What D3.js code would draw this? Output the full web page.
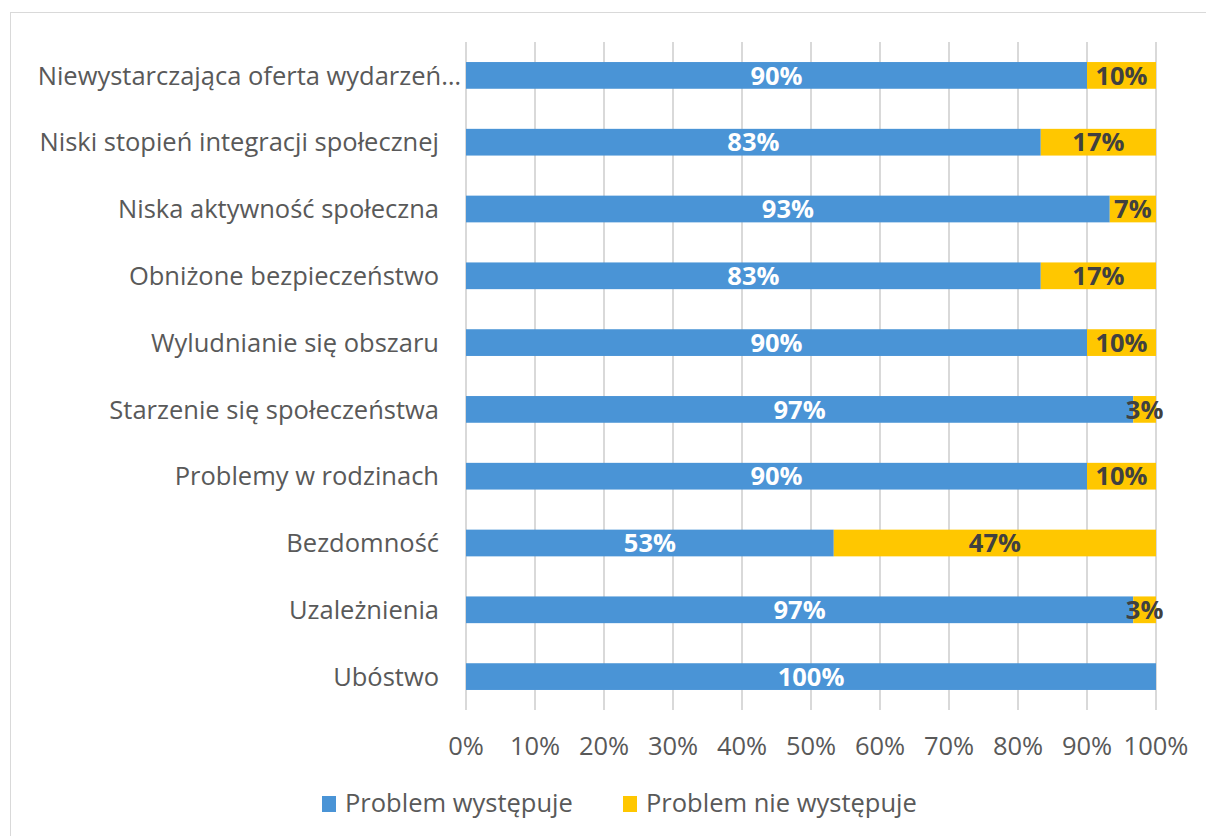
<!DOCTYPE html>
<html><head><meta charset="utf-8">
<script src="https://cdn.jsdelivr.net/npm/d3@7"></script>
<style>body{margin:0;background:#fff}svg{display:block}</style>
</head><body>
<script>
const categories = ["Niewystarczająca oferta wydarzeń…","Niski stopień integracji społecznej","Niska aktywność społeczna","Obniżone bezpieczeństwo","Wyludnianie się obszaru","Starzenie się społeczeństwa","Problemy w rodzinach","Bezdomność","Uzależnienia","Ubóstwo"];
const occurs = [90,83.3,93.3,83.3,90,96.7,90,53.3,96.7,100];
const notOccurs = [10,16.7,6.7,16.7,10,3.3,10,46.7,3.3,0];
const seriesNames = ["Problem występuje","Problem nie występuje"];
const ticks = [0,10,20,30,40,50,60,70,80,90,100];
const colors = ["#4A94D6","#FFC700"];

const W=1206,H=836;
const svg=d3.select("body").append("svg").attr("width",W).attr("height",H);
svg.append("rect").attr("x",10.5).attr("y",12.5).attr("width",1200).attr("height",840).attr("fill","#fff").attr("stroke","#d9d9d9");
const font="'Open Sans', sans-serif";
const fs=25.5;
const x=d3.scaleLinear().domain([0,100]).range([466,1156]);
const y=d3.scaleBand().domain(categories).range([42,710]).paddingInner(0.6).paddingOuter(0.3);

svg.append("g").selectAll("line").data(ticks).join("line")
 .attr("x1",d=>x(d)).attr("x2",d=>x(d)).attr("y1",42).attr("y2",710)
 .attr("stroke","#d9d9d9").attr("stroke-width",2);

const rows=categories.map((c,i)=>({c,a:occurs[i],b:notOccurs[i]}));
const g=svg.append("g");
g.selectAll("rect.a").data(rows).join("rect").attr("x",x(0)).attr("y",d=>y(d.c)).attr("width",d=>x(d.a)-x(0)).attr("height",y.bandwidth()).attr("fill",colors[0]);
g.selectAll("rect.b").data(rows).join("rect").attr("x",d=>x(d.a)).attr("y",d=>y(d.c)).attr("width",d=>x(d.a+d.b)-x(d.a)).attr("height",y.bandwidth()).attr("fill",colors[1]);
g.selectAll("text.a").data(rows).join("text").attr("x",d=>x(d.a/2)).attr("y",d=>y(d.c)+y.bandwidth()/2).attr("dy","0.36em")
 .attr("text-anchor","middle").attr("font-family",font).attr("font-weight","bold").attr("font-size",fs).attr("fill","#fff").text(d=>Math.round(d.a)+"%");
g.selectAll("text.b").data(rows.filter(d=>d.b>0)).join("text").attr("x",d=>x(d.a+d.b/2)).attr("y",d=>y(d.c)+y.bandwidth()/2).attr("dy","0.36em")
 .attr("text-anchor","middle").attr("font-family",font).attr("font-weight","bold").attr("font-size",fs).attr("fill","#404040").text(d=>Math.round(d.b)+"%");

svg.append("g").selectAll("text").data(categories).join("text")
 .attr("x",d=>d.endsWith("…")?461:439).attr("y",d=>y(d)+y.bandwidth()/2).attr("dy","0.36em")
 .attr("text-anchor","end").attr("font-family",font).attr("font-size",fs).attr("fill","#595959").text(d=>d);

svg.append("g").selectAll("text").data(ticks).join("text")
 .attr("x",d=>x(d)).attr("y",746).attr("dy","0.36em").attr("text-anchor","middle")
 .attr("font-family",font).attr("font-size",fs).attr("fill","#595959").text(d=>d+"%");

const leg=[{n:seriesNames[0],c:colors[0],x:322},{n:seriesNames[1],c:colors[1],x:623}];
const lg=svg.append("g");
lg.selectAll("rect").data(leg).join("rect").attr("x",d=>d.x).attr("y",796).attr("width",14).attr("height",16).attr("fill",d=>d.c);
lg.selectAll("text").data(leg).join("text").attr("x",d=>d.x+23).attr("y",803).attr("dy","0.36em")
 .attr("font-family",font).attr("font-size",fs).attr("fill","#595959").text(d=>d.n);
</script>
</body></html>
